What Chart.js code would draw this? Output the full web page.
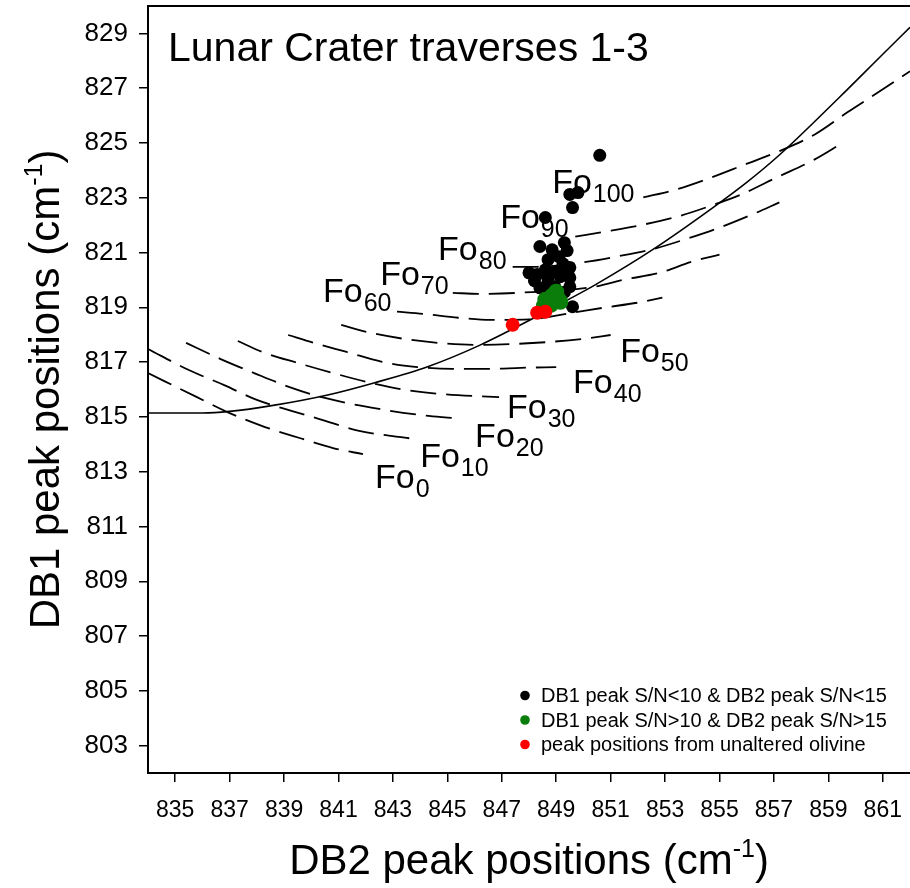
<!DOCTYPE html>
<html><head><meta charset="utf-8">
<script src="https://cdn.jsdelivr.net/npm/chart.js@4.4.1/dist/chart.umd.min.js"></script>
<style>html,body{margin:0;padding:0;background:#fff;overflow:hidden}#wrap{width:910px;height:888px;position:relative}</style>
</head><body><div id="wrap"><canvas id="c" width="910" height="888"></canvas></div>
<script>
// ---- tick labels ----
const xTicks = [835,837,839,841,843,845,847,849,851,853,855,857,859,861];
const yTicks = [803,805,807,809,811,813,815,817,819,821,823,825,827,829];

// ---- measured peak positions [DB2, DB1] ----
const lowSN = [[850.6,824.55],[849.5,823.12],[849.8,823.19],[849.6,822.64],[848.6,822.28],[849.3,821.36],[848.4,821.22],[849.4,821.07],[848.85,821.10],[848.7,820.74],[849.1,820.85],[848.0,820.26],[848.6,820.37],[849.5,820.45],[849.2,820.40],[848.3,820.20],[848.2,819.97],[848.7,820.01],[849.15,820.12],[849.5,820.08],[848.4,819.71],[848.95,819.75],[849.5,819.75],[848.6,819.70],[849.3,819.55],[849.6,819.02],[848.95,820.30],[849.25,820.59]];
const highSN = [[848.6,819.28],[848.85,819.42],[849.05,819.35],[848.8,819.09],[849.0,819.57],[848.55,819.06],[849.15,819.20],[848.9,819.25]];
const unaltered = [[847.4,818.36],[848.3,818.80],[848.6,818.84]];

// ---- forsterite iso-composition curves [DB2, DB1] ----
const fo0   = [[834.0,816.60],[835.8,815.72],[837.0,815.14],[838.3,814.63],[839.6,814.22],[840.8,813.86],[841.9,813.64]];
const fo10  = [[834.0,817.48],[835.5,816.71],[836.8,816.16],[838.0,815.62],[839.3,815.21],[840.3,814.92],[841.8,814.48],[843.3,814.26],[843.6,814.22]];
const fo20  = [[835.4,817.70],[836.65,817.12],[837.9,816.60],[839.2,816.09],[840.5,815.69],[842.5,815.29],[844.0,815.07],[845.2,814.96]];
const fo30  = [[837.3,817.77],[838.2,817.37],[839.5,816.97],[840.8,816.60],[842.2,816.24],[843.5,815.98],[844.85,815.83],[846.9,815.72]];
const fo40  = [[839.15,817.99],[840.1,817.70],[841.3,817.37],[842.6,817.01],[843.9,816.82],[845.2,816.75],[846.5,816.75],[847.7,816.79],[849.0,816.82]];
const fo50  = [[841.1,818.36],[842.05,818.10],[843.4,817.85],[844.7,817.70],[846.1,817.63],[847.4,817.66],[848.8,817.74],[850.0,817.85],[851.0,817.99]];
const fo60  = [[843.15,818.84],[844.1,818.76],[845.4,818.62],[846.6,818.54],[848.0,818.56],[849.6,818.80],[850.7,818.98],[852.0,819.17],[852.9,819.35]];
const fo70  = [[845.2,819.53],[846.2,819.49],[847.6,819.53],[850.4,819.75],[851.5,820.01],[852.8,820.26],[854.0,820.67],[855.0,820.92]];
const fo80  = [[847.4,820.48],[848.3,820.48],[849.9,820.63],[851.2,820.85],[852.5,821.11],[853.7,821.47],[855.0,821.91],[856.2,822.39],[857.2,822.83]];
const fo90  = [[849.7,821.58],[850.9,821.78],[852.2,822.02],[853.45,822.31],[854.6,822.68],[855.8,823.12],[857.1,823.74],[858.5,824.40],[859.5,824.99]];
const fo100 = [[852.2,823.01],[853.4,823.30],[854.7,823.74],[855.95,824.22],[857.1,824.66],[858.5,825.31],[859.7,826.12],[861.0,826.96],[862.0,827.62]];
const foCurves = [fo0,fo10,fo20,fo30,fo40,fo50,fo60,fo70,fo80,fo90,fo100];
// solid trend curve
const trend = [[834.0,815.14],[836.0,815.14],[837.0,815.20],[838.6,815.42],[840.6,815.80],[842.3,816.24],[844.3,816.84],[846.2,817.62],[848.2,818.62],[849.4,819.26],[850.4,819.80],[852.6,821.14],[854.9,822.74],[856.0,823.56],[857.2,824.56],[859.4,826.66],[861.0,828.24],[862.0,829.22]];

// ---- texts ----
const titleText = 'Lunar Crater traverses 1-3';
const xTitle = ['DB2 peak positions (cm', '-1', ')'];
const yTitle = ['DB1 peak positions (cm', '-1', ')'];
const foNames = ['0','10','20','30','40','50','60','70','80','90','100'];
// label anchors (left of "F", baseline) in data units
const foLabelAt = [[842.34,812.39],[844.0,813.16],[846.02,813.89],[847.19,814.96],[849.62,815.87],[851.35,817.01],[840.43,819.20],[842.53,819.82],[844.66,820.73],[846.94,821.91],[848.85,823.19]];
const legendItems = [['DB1 peak S/N<10 & DB2 peak S/N<15','#000000'],['DB1 peak S/N>10 & DB2 peak S/N>15','#0a7d0a'],['peak positions from unaltered olivine','#ff0000']];

const FONT = "'Liberation Sans', Arial, sans-serif";
const toXY = a => a.map(p => ({x:p[0], y:p[1]}));

const datasets = [];
foCurves.forEach((c,i) => datasets.push({
  data: toXY(c), showLine:true, borderColor:'#000', borderWidth:1.8, borderDash:[26,10],
  pointRadius:0, cubicInterpolationMode:'monotone', fill:false, order: 5
}));
datasets.push({data: toXY(trend), showLine:true, borderColor:'#000', borderWidth:1.6, pointRadius:0, cubicInterpolationMode:'monotone', fill:false, order:4});
datasets.push({data: toXY(lowSN), showLine:false, pointRadius:6.5, pointBackgroundColor:'#000', pointBorderWidth:0, order:3});
datasets.push({data: toXY(highSN), showLine:false, pointRadius:8, pointBackgroundColor:'#0a7d0a', pointBorderWidth:0, order:2});
datasets.push({data: toXY(unaltered), showLine:false, pointRadius:7, pointBackgroundColor:'#ff0000', pointBorderWidth:0, order:1});

function drawSup(ctx, parts, cx, y, big, small, rise) {
  ctx.font = big + 'px ' + FONT;
  const w0 = ctx.measureText(parts[0]).width, w2 = ctx.measureText(parts[2]).width;
  ctx.font = small + 'px ' + FONT;
  const w1 = ctx.measureText(parts[1]).width;
  let x = cx - (w0 + w1 + w2) / 2;
  ctx.textAlign = 'left'; ctx.textBaseline = 'alphabetic';
  ctx.font = big + 'px ' + FONT; ctx.fillText(parts[0], x, y); x += w0;
  ctx.font = small + 'px ' + FONT; ctx.fillText(parts[1], x, y - rise); x += w1;
  ctx.font = big + 'px ' + FONT; ctx.fillText(parts[2], x, y);
}

const textPlugin = {
  id: 'texts',
  beforeDatasetsDraw(chart) {
    const ctx = chart.ctx, xs = chart.scales.x, ys = chart.scales.y, ca = chart.chartArea;
    ctx.save();
    ctx.fillStyle = '#000'; ctx.textAlign = 'left'; ctx.textBaseline = 'alphabetic';
    ctx.font = '41px ' + FONT;
    ctx.fillText(titleText, ca.left + 20, ca.top + 55);
    foNames.forEach((n, i) => {
      const px = xs.getPixelForValue(foLabelAt[i][0]), py = ys.getPixelForValue(foLabelAt[i][1]);
      ctx.font = '34px ' + FONT;
      ctx.fillText('Fo', px, py);
      const w = ctx.measureText('Fo').width;
      ctx.font = '25px ' + FONT;
      ctx.fillText(n, px + w + 1, py + 9);
    });
    ctx.restore();
  },
  afterDraw(chart) {
    const ctx = chart.ctx, ca = chart.chartArea;
    ctx.save();
    ctx.fillStyle = '#000';
    ctx.strokeStyle = '#000'; ctx.lineWidth = 2;
    ctx.beginPath(); ctx.moveTo(ca.left - 1, ca.top); ctx.lineTo(ca.right, ca.top); ctx.stroke();
    drawSup(ctx, xTitle, (ca.left + ca.right) / 2, 874, 42, 25, 17);
    ctx.save();
    ctx.translate(59, (ca.top + ca.bottom) / 2);
    ctx.rotate(-Math.PI / 2);
    drawSup(ctx, yTitle, 0, 0, 42, 25, 17);
    ctx.restore();
    ctx.font = '20px ' + FONT; ctx.textAlign = 'left'; ctx.textBaseline = 'alphabetic';
    legendItems.forEach((it, i) => {
      const y = 702 + i * 24.5;
      ctx.fillStyle = it[1];
      ctx.beginPath(); ctx.arc(525, y - 6.5, 4.8, 0, Math.PI * 2); ctx.fill();
      ctx.fillStyle = '#000';
      ctx.fillText(it[0], 541, y);
    });
    ctx.restore();
  }
};

const noPad = s => { s.paddingTop = 0; s.paddingBottom = 0; s.paddingLeft = 0; s.paddingRight = 0; };

new Chart(document.getElementById('c'), {
  type: 'scatter',
  data: { datasets },
  options: {
    responsive: false, animation: false, devicePixelRatio: 1, events: [],
    layout: { autoPadding: false, padding: { top: 6, right: 0, left: 0, bottom: 0 } },
    plugins: { legend: { display: false }, tooltip: { enabled: false } },
    scales: {
      x: {
        type: 'linear', min: 834, max: 862,
        afterBuildTicks: s => { s.ticks = xTicks.map(v => ({ value: v })); },
        afterFit: s => { s.height = 115; noPad(s); },
        ticks: { autoSkip: false, maxRotation: 0, minRotation: 0, padding: 15, color: '#000',
                 font: { family: FONT, size: 23 }, callback: v => String(v) },
        grid: { display: true, drawOnChartArea: false, drawTicks: true, tickLength: 9, color: '#000', lineWidth: 1.5 },
        border: { display: true, color: '#000', width: 2 }
      },
      y: {
        type: 'linear', min: 802, max: 830,
        afterBuildTicks: s => { s.ticks = yTicks.map(v => ({ value: v })); },
        afterFit: s => { s.width = 148; noPad(s); },
        ticks: { autoSkip: false, padding: 11, color: '#000',
                 font: { family: FONT, size: 26 }, callback: v => String(v) },
        grid: { display: true, drawOnChartArea: false, drawTicks: true, tickLength: 9, color: '#000', lineWidth: 1.5 },
        border: { display: true, color: '#000', width: 2 }
      }
    }
  },
  plugins: [textPlugin]
});
</script></body></html>
